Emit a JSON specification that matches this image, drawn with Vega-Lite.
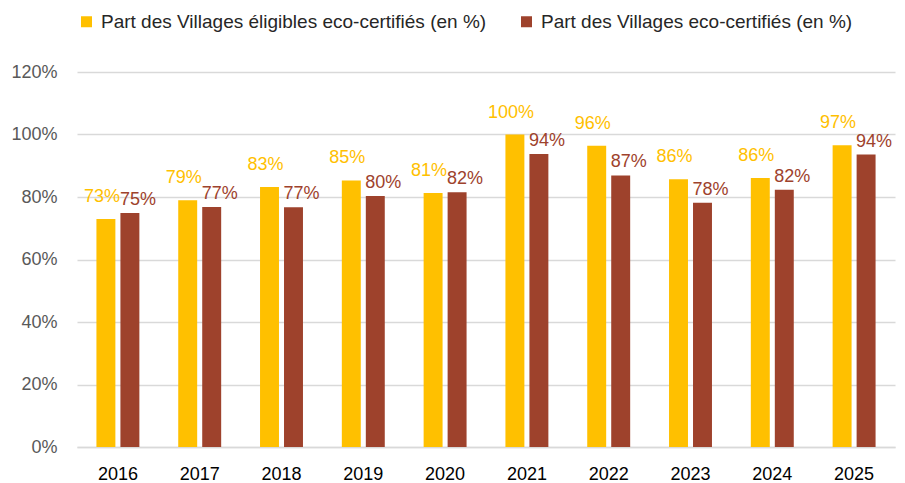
{
  "$schema": "https://vega.github.io/schema/vega-lite/v6.json",
  "width": 818,
  "height": 375,
  "autosize": {"type": "none"},
  "padding": {"left": 77, "top": 72, "right": 10, "bottom": 36},
  "background": "white",
  "config": {"view": {"stroke": null}, "font": "Liberation Sans"},
  "data": {"values": [
    {"year": "2016", "series": "Part des Villages éligibles eco-certifiés (en %)", "value": 0.73},
    {"year": "2017", "series": "Part des Villages éligibles eco-certifiés (en %)", "value": 0.79},
    {"year": "2018", "series": "Part des Villages éligibles eco-certifiés (en %)", "value": 0.832},
    {"year": "2019", "series": "Part des Villages éligibles eco-certifiés (en %)", "value": 0.853},
    {"year": "2020", "series": "Part des Villages éligibles eco-certifiés (en %)", "value": 0.813},
    {"year": "2021", "series": "Part des Villages éligibles eco-certifiés (en %)", "value": 1.0},
    {"year": "2022", "series": "Part des Villages éligibles eco-certifiés (en %)", "value": 0.964},
    {"year": "2023", "series": "Part des Villages éligibles eco-certifiés (en %)", "value": 0.857},
    {"year": "2024", "series": "Part des Villages éligibles eco-certifiés (en %)", "value": 0.861},
    {"year": "2025", "series": "Part des Villages éligibles eco-certifiés (en %)", "value": 0.966},
    {"year": "2016", "series": "Part des Villages eco-certifiés (en %)", "value": 0.749},
    {"year": "2017", "series": "Part des Villages eco-certifiés (en %)", "value": 0.768},
    {"year": "2018", "series": "Part des Villages eco-certifiés (en %)", "value": 0.767},
    {"year": "2019", "series": "Part des Villages eco-certifiés (en %)", "value": 0.803},
    {"year": "2020", "series": "Part des Villages eco-certifiés (en %)", "value": 0.815},
    {"year": "2021", "series": "Part des Villages eco-certifiés (en %)", "value": 0.938},
    {"year": "2022", "series": "Part des Villages eco-certifiés (en %)", "value": 0.869},
    {"year": "2023", "series": "Part des Villages eco-certifiés (en %)", "value": 0.782},
    {"year": "2024", "series": "Part des Villages eco-certifiés (en %)", "value": 0.823},
    {"year": "2025", "series": "Part des Villages eco-certifiés (en %)", "value": 0.936}
  ]},
  "encoding": {
    "x": {
      "field": "year", "type": "ordinal",
      "scale": {"paddingInner": 0.475, "paddingOuter": 0.2375},
      "axis": {"title": null, "labelAngle": 0, "labelFontSize": 18, "labelColor": "#000000", "labelPadding": 18, "ticks": false, "domainColor": "#D9D9D9", "domainWidth": 1.5, "grid": false}
    },
    "xOffset": {
      "field": "series",
      "sort": ["Part des Villages éligibles eco-certifiés (en %)", "Part des Villages eco-certifiés (en %)"],
      "scale": {"paddingInner": 0.21}
    },
    "y": {
      "field": "value", "type": "quantitative",
      "scale": {"domain": [0, 1.2], "nice": false},
      "axis": {"title": null, "format": ".0%", "values": [0, 0.2, 0.4, 0.6, 0.8, 1.0, 1.2], "labelFontSize": 18, "labelColor": "#595959", "labelPadding": 20, "ticks": false, "domain": false, "gridColor": "#D9D9D9", "gridWidth": 1.5}
    },
    "color": {
      "field": "series", "type": "nominal",
      "scale": {
        "domain": ["Part des Villages éligibles eco-certifiés (en %)", "Part des Villages eco-certifiés (en %)"],
        "range": ["#FFC000", "#9E422C"]
      },
      "legend": {"orient": "none", "legendX": 0, "legendY": -60, "direction": "horizontal", "title": null, "labelFontSize": 19, "labelLimit": 600, "labelColor": "#262626", "symbolType": "square", "symbolSize": 121, "symbolStrokeWidth": 0, "columnPadding": 30, "labelOffset": 5}
    }
  },
  "layer": [
    {"mark": {"type": "bar"}},
    {
      "transform": [{"filter": "datum.series === 'Part des Villages éligibles eco-certifiés (en %)'"}],
      "mark": {"type": "text", "baseline": "alphabetic", "dy": -17, "dx": -4, "fontSize": 18},
      "encoding": {"text": {"field": "value", "type": "quantitative", "format": ".0%"}}
    },
    {
      "transform": [{"filter": "datum.series === 'Part des Villages eco-certifiés (en %)'"}],
      "mark": {"type": "text", "baseline": "alphabetic", "dy": -8, "dx": 8, "fontSize": 18},
      "encoding": {"text": {"field": "value", "type": "quantitative", "format": ".0%"}}
    }
  ]
}
